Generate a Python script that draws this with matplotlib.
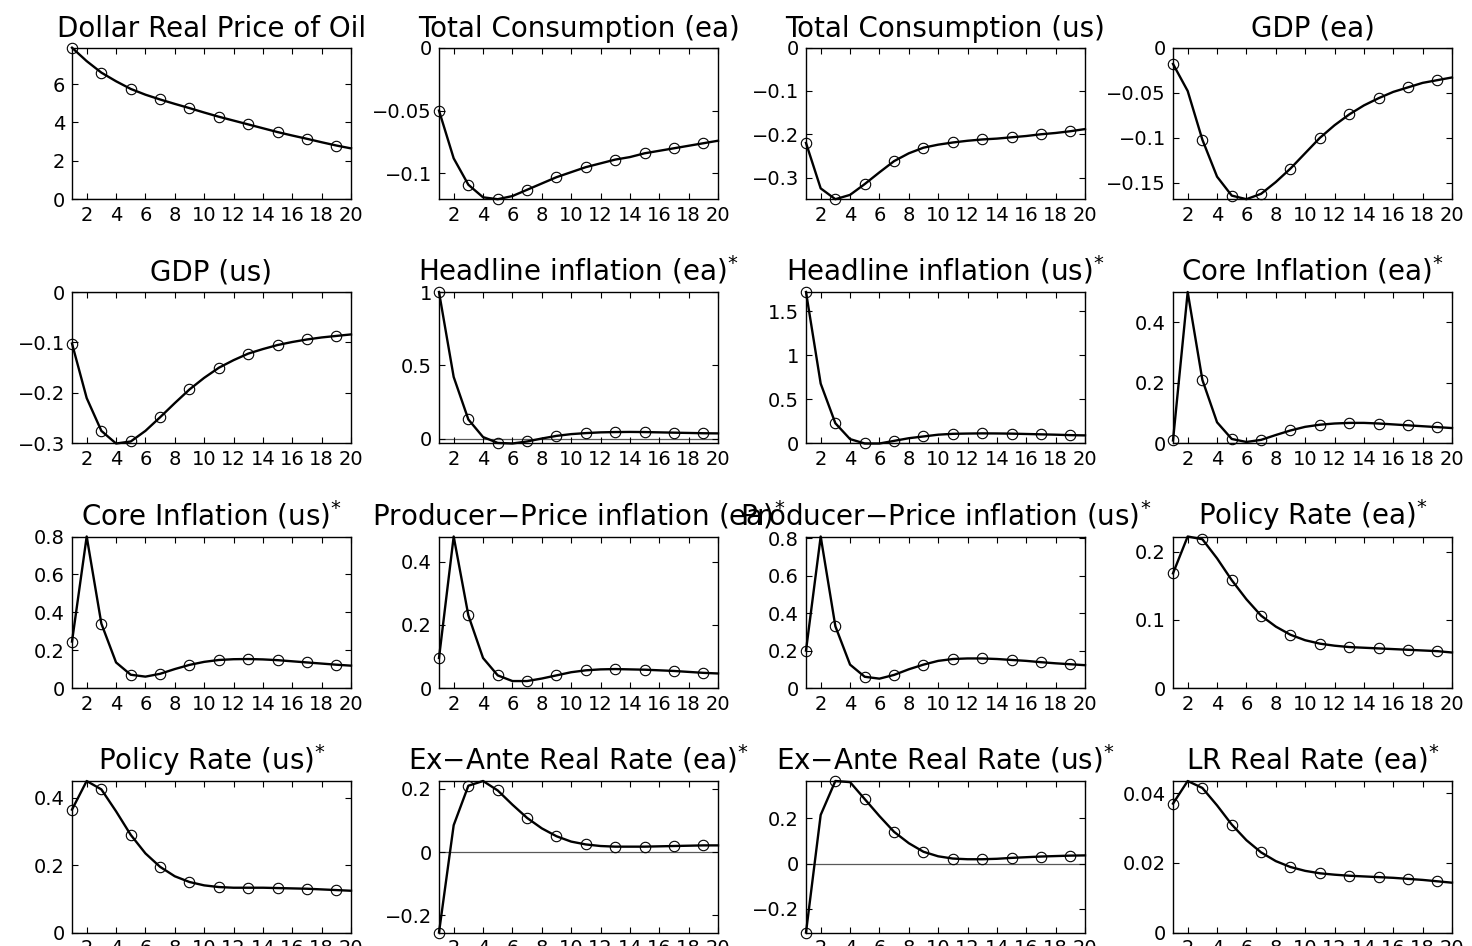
import numpy as np
import matplotlib
matplotlib.use("Agg")
import matplotlib.pyplot as plt
from matplotlib.ticker import FuncFormatter

plt.rcParams['font.family'] = ['DejaVu Sans']
plt.rcParams['mathtext.fontset'] = 'dejavusans'

horizonte = np.arange(1, 21)

titulos = [
    "Dollar Real Price of Oil", "Total Consumption (ea)", "Total Consumption (us)", "GDP (ea)",
    "GDP (us)", "Headline inflation (ea)$^{*}$", "Headline inflation (us)$^{*}$", "Core Inflation (ea)$^{*}$",
    "Core Inflation (us)$^{*}$", "Producer\u2212Price inflation (ea)$^{*}$", "Producer\u2212Price inflation (us)$^{*}$", "Policy Rate (ea)$^{*}$",
    "Policy Rate (us)$^{*}$", "Ex\u2212Ante Real Rate (ea)$^{*}$", "Ex\u2212Ante Real Rate (us)$^{*}$", "LR Real Rate (ea)$^{*}$",
]

oil = [7.9, 7.2, 6.6, 6.15, 5.75, 5.45, 5.2, 4.97, 4.75, 4.52,
       4.3, 4.1, 3.9, 3.7, 3.5, 3.32, 3.15, 2.97, 2.8, 2.65]
cons_ea = [-0.05, -0.088, -0.109, -0.119, -0.1205, -0.118, -0.113, -0.108, -0.103, -0.099,
           -0.095, -0.092, -0.089, -0.087, -0.084, -0.082, -0.080, -0.078, -0.076, -0.074]
cons_us = [-0.22, -0.325, -0.35, -0.34, -0.315, -0.288, -0.262, -0.244, -0.231, -0.224,
           -0.219, -0.215, -0.212, -0.210, -0.207, -0.204, -0.200, -0.197, -0.193, -0.188]
gdp_ea = [-0.018, -0.048, -0.102, -0.143, -0.164, -0.168, -0.162, -0.149, -0.134, -0.117,
          -0.100, -0.086, -0.074, -0.064, -0.056, -0.049, -0.044, -0.039, -0.036, -0.033]
gdp_us = [-0.102, -0.21, -0.275, -0.30, -0.296, -0.275, -0.248, -0.22, -0.193, -0.17,
          -0.15, -0.135, -0.122, -0.113, -0.105, -0.099, -0.094, -0.09, -0.087, -0.084]
head_ea = [1.0, 0.42, 0.13, 0.01, -0.03, -0.034, -0.02, 0.0, 0.018, 0.03,
           0.037, 0.042, 0.044, 0.045, 0.044, 0.042, 0.04, 0.038, 0.036, 0.035]
head_us = [1.72, 0.68, 0.23, 0.05, 0.0, 0.0, 0.03, 0.06, 0.08, 0.1,
           0.11, 0.113, 0.115, 0.114, 0.112, 0.108, 0.104, 0.1, 0.095, 0.092]
core_ea = [0.01, 0.50, 0.21, 0.07, 0.015, 0.005, 0.012, 0.028, 0.043, 0.055,
           0.062, 0.066, 0.068, 0.068, 0.066, 0.063, 0.06, 0.057, 0.054, 0.051]
core_us = [0.245, 0.80, 0.34, 0.135, 0.07, 0.06, 0.075, 0.1, 0.122, 0.138,
           0.148, 0.152, 0.153, 0.151, 0.147, 0.141, 0.135, 0.129, 0.123, 0.118]
ppi_ea = [0.095, 0.48, 0.23, 0.095, 0.04, 0.022, 0.022, 0.03, 0.04, 0.05,
          0.056, 0.059, 0.06, 0.059, 0.058, 0.056, 0.054, 0.051, 0.048, 0.046]
ppi_us = [0.2, 0.81, 0.33, 0.125, 0.06, 0.05, 0.07, 0.1, 0.125, 0.145,
          0.155, 0.158, 0.158, 0.155, 0.15, 0.145, 0.138, 0.132, 0.127, 0.122]
taxa_ea = [0.168, 0.222, 0.218, 0.19, 0.158, 0.13, 0.106, 0.09, 0.078, 0.07,
           0.065, 0.062, 0.06, 0.059, 0.058, 0.057, 0.056, 0.055, 0.054, 0.052]
taxa_us = [0.365, 0.45, 0.425, 0.36, 0.29, 0.235, 0.195, 0.167, 0.15, 0.14,
           0.135, 0.133, 0.133, 0.133, 0.132, 0.131, 0.13, 0.128, 0.126, 0.124]
real_ea = [-0.255, 0.085, 0.21, 0.225, 0.195, 0.15, 0.108, 0.075, 0.05, 0.033,
           0.024, 0.019, 0.017, 0.017, 0.017, 0.018, 0.019, 0.02, 0.021, 0.021]
real_us = [-0.305, 0.215, 0.365, 0.36, 0.285, 0.21, 0.14, 0.09, 0.052, 0.032,
           0.022, 0.019, 0.019, 0.021, 0.025, 0.028, 0.031, 0.033, 0.035, 0.036]
lr_ea = [0.037, 0.0435, 0.0415, 0.0365, 0.031, 0.0265, 0.023, 0.0205, 0.0188, 0.0177,
         0.017, 0.0166, 0.0163, 0.0161, 0.0159, 0.0157, 0.0154, 0.0151, 0.0147, 0.0143]

series = [oil, cons_ea, cons_us, gdp_ea, gdp_us, head_ea, head_us, core_ea,
          core_us, ppi_ea, ppi_us, taxa_ea, taxa_us, real_ea, real_us, lr_ea]

yticks = [
    [0, 2, 4, 6], [-0.1, -0.05, 0], [-0.3, -0.2, -0.1, 0], [-0.15, -0.1, -0.05, 0],
    [-0.3, -0.2, -0.1, 0], [0, 0.5, 1], [0, 0.5, 1, 1.5], [0, 0.2, 0.4],
    [0, 0.2, 0.4, 0.6, 0.8], [0, 0.2, 0.4], [0, 0.2, 0.4, 0.6, 0.8], [0, 0.1, 0.2],
    [0, 0.2, 0.4], [-0.2, 0, 0.2], [-0.2, 0, 0.2], [0, 0.02, 0.04],
]

def rotulo(v, pos):
    s = "%g" % v
    return s.replace("-", "\u2212")

W, H = 1472, 946
fig = plt.figure(figsize=(W / 100, H / 100), dpi=100)

esquerdas = [72, 439, 806, 1173]
topos = [47.7, 292, 536.5, 781]
larg, alt = 279, 151.5

for k in range(16):
    lin, col = divmod(k, 4)
    ax = fig.add_axes([esquerdas[col] / W, 1 - (topos[lin] + alt) / H, larg / W, alt / H])
    y = np.array(series[k])
    ax.axhline(0, color="0.35", lw=0.9, zorder=1)
    ax.plot(horizonte, y, color="black", lw=1.7, marker="o", markevery=2,
            markersize=7.5, markerfacecolor="none", markeredgewidth=0.8, clip_on=False, zorder=3)
    ax.set_xlim(1, 20)
    ax.set_ylim(min(0, y.min()), max(0, y.max()))
    ax.set_xticks(range(2, 21, 2))
    ax.set_yticks(yticks[k])
    ax.yaxis.set_major_formatter(FuncFormatter(rotulo))
    ax.tick_params(direction="in", top=True, right=True, length=4, width=0.8,
                   labelsize=14, pad=5)
    for sp in ax.spines.values():
        sp.set_linewidth(1.0)
    ax.set_title(titulos[k], fontsize=20, pad=8)

fig.savefig("out.png", dpi=100)
